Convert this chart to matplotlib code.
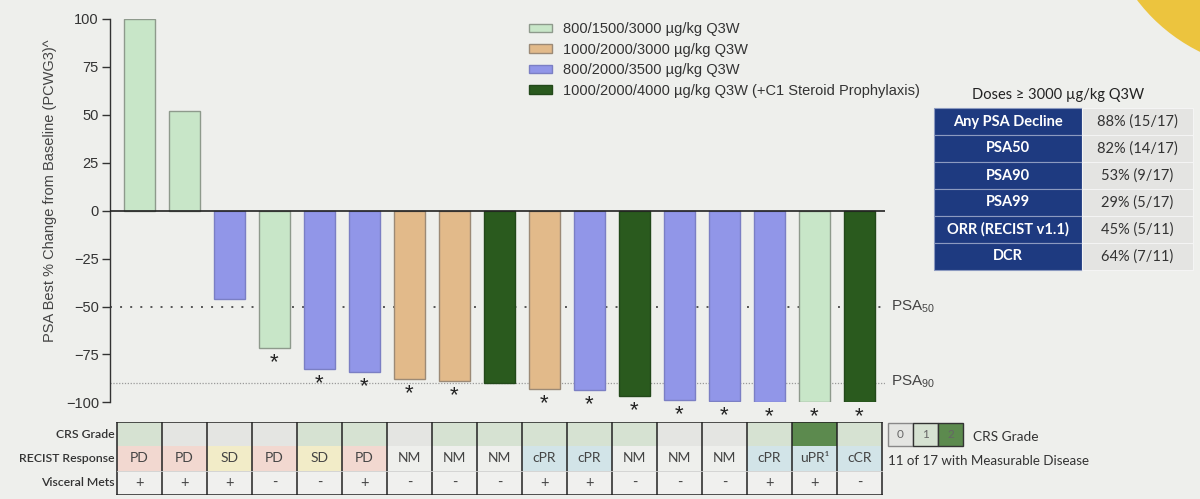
import numpy as np
import matplotlib
matplotlib.use('Agg')
import matplotlib.pyplot as plt
from matplotlib.patches import Rectangle, Circle, Patch

plt.rcParams['font.family'] = ['Liberation Sans', 'DejaVu Sans']
plt.rcParams['mathtext.fontset'] = 'custom'
plt.rcParams['mathtext.rm'] = 'Liberation Sans'

# ---------------- data ----------------
psa_change = [100, 52, -46, -71.4, -82.7, -84.1, -87.9, -88.6, -90, -93, -93.3,
              -96.6, -98.7, -99.2, -99.6, -99.8, -100]
cohort = [0, 0, 2, 0, 2, 2, 1, 1, 3, 1, 2, 3, 2, 2, 2, 0, 3]
asterisk = [0, 0, 0, 1, 1, 1, 1, 1, 0, 1, 1, 1, 1, 1, 1, 1, 1]
cohort_labels = ['800/1500/3000 µg/kg Q3W',
                 '1000/2000/3000 µg/kg Q3W',
                 '800/2000/3500 µg/kg Q3W',
                 '1000/2000/4000 µg/kg Q3W (+C1 Steroid Prophylaxis)']
crs_grade = [1, 0, 0, 0, 1, 1, 0, 1, 1, 1, 1, 1, 0, 0, 1, 2, 1]
recist = ['PD', 'PD', 'SD', 'PD', 'SD', 'PD', 'NM', 'NM', 'NM', 'cPR', 'cPR',
          'NM', 'NM', 'NM', 'cPR', 'uPR¹', 'cCR']
visceral = ['+', '+', '+', '-', '-', '+', '-', '-', '-', '+', '+', '-', '-', '-',
            '+', '+', '-']
summary_labels = ['Any PSA Decline', 'PSA50', 'PSA90', 'PSA99',
                  'ORR (RECIST v1.1)', 'DCR']
summary_values = ['88% (15/17)', '82% (14/17)', '53% (9/17)', '29% (5/17)',
                  '45% (5/11)', '64% (7/11)']
psa_thresholds = [-50, -90]
yticks = [100, 75, 50, 25, 0, -25, -50, -75, -100]

# ---------------- styles ----------------
BG = '#eeefec'
bar_colors = ['#c8e6c8', '#e2ba8a', '#9196e8', '#2a5a1e']
bar_edges = ['#8e9a8c', '#9c8a76', '#7b7fc4', '#22481a']
crs_colors = ['#e4e5e2', '#d6e2d2', '#5c8a4e']
recist_colors = {'PD': '#f2d8d0', 'SD': '#f2ecc8', 'NM': '#eeefec',
                 'cPR': '#d2e4e8', 'uPR¹': '#d2e4e8', 'cCR': '#d2e4e8'}
LATO = ['Lato', 'DejaVu Sans']
W, H = 1200, 499


def fx(px):
    return px / W


def fy(py):
    return 1 - py / H


fig = plt.figure(figsize=(12, 4.99), dpi=100, facecolor=BG)

# overlay in pixel coordinates for decoration and side tables
ax_o = fig.add_axes([0, 0, 1, 1], zorder=0)
ax_o.set_xlim(0, W)
ax_o.set_ylim(H, 0)
ax_o.axis('off')
ax_o.add_patch(Circle((1278, -107), 177, color='#ecc43e', lw=0))

# ---------------- waterfall ----------------
x = np.arange(len(psa_change))
x_left = (110 - 139.5) / 45
x_right = (885 - 139.5) / 45
ax = fig.add_axes([fx(110), fy(402.4), (885 - 110) / W, (402.4 - 19) / H], zorder=2)
ax.set_facecolor('none')
ax.set_xlim(x_left, x_right)
ax.set_ylim(-100, 100)

ax.axhline(psa_thresholds[0], color='#555555', lw=1.4, ls=(0, (1, 4.2)), zorder=1)
ax.axhline(psa_thresholds[1], color='#9a9a9a', lw=0.9, ls=(0, (1, 1.3)), zorder=1)
ax.bar(x, psa_change, width=0.667,
       color=[bar_colors[c] for c in cohort],
       edgecolor=[bar_edges[c] for c in cohort], linewidth=1, zorder=3)
ax.axhline(0, color='#222222', lw=1.2, zorder=4)

for i, v in enumerate(psa_change):
    if asterisk[i]:
        ax.annotate('*', xy=(i, v), xytext=(0, -3), textcoords='offset points',
                    ha='center', va='top', fontsize=16, color='#222222')

ax.text(x_right + 0.13, psa_thresholds[0], r'PSA$_{\rm 50}$', ha='left', va='center',
        fontsize=11, color='#444444')
ax.text(x_right + 0.13, psa_thresholds[1] + 1, r'PSA$_{\rm 90}$', ha='left', va='center',
        fontsize=11, color='#444444')

for s in ['top', 'right', 'bottom']:
    ax.spines[s].set_visible(False)
ax.spines['left'].set_color('#333333')
ax.spines['left'].set_linewidth(1)
ax.set_xticks([])
ax.set_yticks(yticks)
ax.tick_params(axis='y', direction='out', length=6, width=1, color='#333333',
               labelsize=10.5, labelcolor='#333333', pad=2)
ax.set_ylabel('PSA Best % Change from Baseline (PCWG3)^', fontsize=10.5,
              color='#444444')
ax.yaxis.set_label_coords(-0.068, 0.553)

handles = [Patch(facecolor=bar_colors[k], edgecolor=bar_edges[k], lw=1)
           for k in range(4)]
fig.legend(handles, cohort_labels, loc='upper left', bbox_to_anchor=(fx(529), fy(22)),
           frameon=False, fontsize=10.5, handlelength=1.55, handleheight=0.5,
           labelspacing=0.45, handletextpad=0.8, borderaxespad=0, borderpad=0,
           labelcolor='#333333')

# ---------------- bottom table ----------------
ax_t = fig.add_axes([fx(110), fy(495), (885 - 110) / W, (495 - 422) / H], zorder=2)
ax_t.set_xlim(x_left, x_right)
ax_t.set_ylim(0, 3)
ax_t.axis('off')
for i in range(len(psa_change)):
    ax_t.add_patch(Rectangle((i - 0.5, 2), 1, 1, fc=crs_colors[crs_grade[i]], lw=0))
    ax_t.add_patch(Rectangle((i - 0.5, 1), 1, 1, fc=recist_colors[recist[i]], lw=0))
    ax_t.add_patch(Rectangle((i - 0.5, 0), 1, 1, fc='#f0f0ee', lw=0))
    ax_t.text(i, 1.5, recist[i], ha='center', va='center', fontsize=10,
              color='#444444', family=LATO)
    ax_t.text(i, 0.5, visceral[i], ha='center', va='center', fontsize=10.5,
              color='#444444', family=LATO)
n = len(psa_change)
for k in range(n + 1):
    ax_t.plot([k - 0.5, k - 0.5], [0, 3], color='#222222', lw=1.1)
ax_t.plot([-0.5, n - 0.5], [3, 3], color='#222222', lw=1.1)
ax_t.plot([-0.5, n - 0.5], [0, 0], color='#222222', lw=1.1)
ax_t.plot([-0.5, n - 0.5], [1, 1], color='#d0d0d0', lw=0.6)
for r, lab in zip([2.5, 1.5, 0.5], ['CRS Grade', 'RECIST Response', 'Visceral Mets']):
    ax_t.annotate(lab, xy=(-0.5, r), xytext=(-2, 0), textcoords='offset points',
                  ha='right', va='center', fontsize=8.8, color='#333333',
                  family=LATO, weight='semibold', annotation_clip=False)

# CRS grade key
for k in range(3):
    ax_o.add_patch(Rectangle((888 + 25 * k, 423), 25, 23, fc=crs_colors[k],
                             ec='#888888' if k == 0 else '#333333', lw=1))
    ax_o.text(900.5 + 25 * k, 434.5, str(k), ha='center', va='center', fontsize=8.5,
              color='#666666', family=LATO)
ax_o.text(973, 437, 'CRS Grade', ha='left', va='center', fontsize=9.8,
          color='#333333', family=LATO)
ax_o.text(888, 461, '11 of 17 with Measurable Disease', ha='left', va='center',
          fontsize=9.6, color='#333333', family=LATO)

# ---------------- summary table ----------------
ax_o.text(1058, 95, 'Doses ≥ 3000 µg/kg Q3W', ha='center', va='center', fontsize=10.5,
          color='#222222', family=LATO)
for i, (lab, val) in enumerate(zip(summary_labels, summary_values)):
    y0 = 108 + i * 27
    ax_o.add_patch(Rectangle((934, y0), 148, 27, fc='#1e3a80', ec='#8c9ac0', lw=0.8))
    ax_o.add_patch(Rectangle((1082, y0), 111, 27, fc='#e4e4e2', ec='#f4f4f4', lw=0.8))
    ax_o.text(1008, y0 + 13.5, lab, ha='center', va='center', fontsize=10.5,
              color='white', weight='bold', family=LATO)
    ax_o.text(1137, y0 + 13.5, val, ha='center', va='center', fontsize=10.5,
              color='#333333', family=LATO)

fig.savefig('out.png', dpi=100, facecolor=BG)
